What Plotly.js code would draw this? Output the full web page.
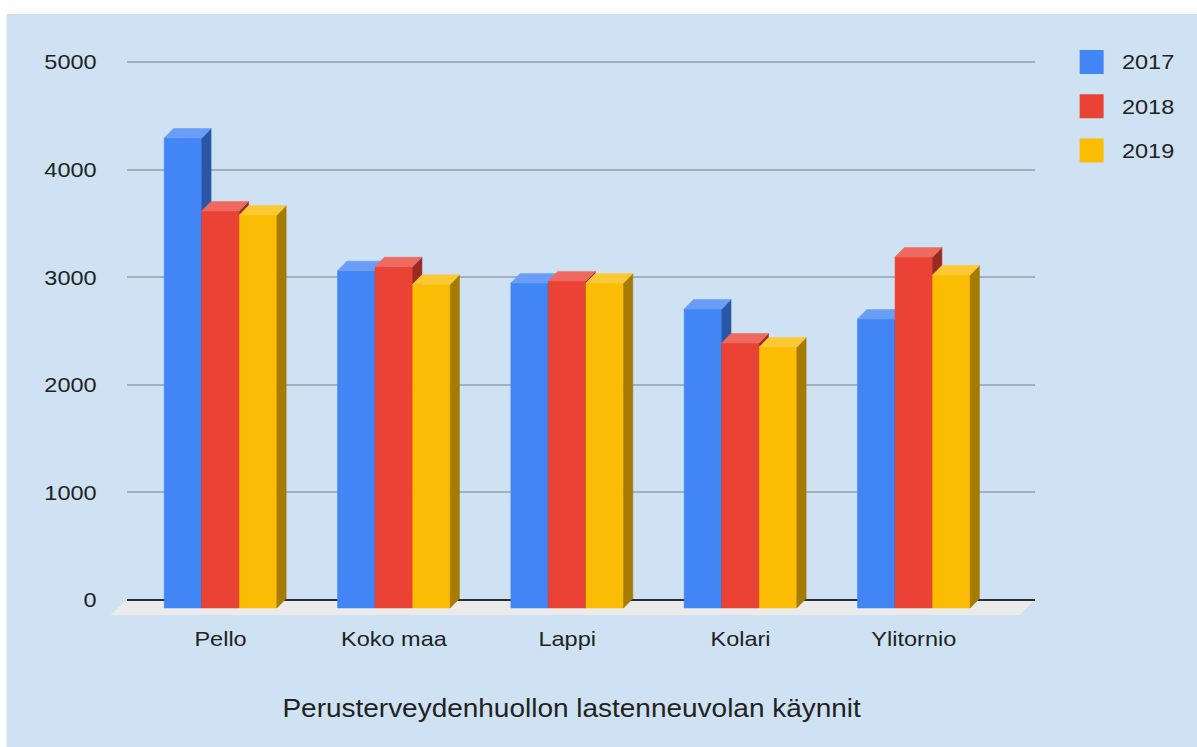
<!DOCTYPE html>
<html><head><meta charset="utf-8">
<script src="https://cdn.plot.ly/plotly-3.0.1.min.js"></script>
<style>
html,body{margin:0;padding:0;background:#ffffff;overflow:hidden}
#chart{width:1069px;height:747px;transform:scaleX(1.119738);transform-origin:0 0;}
</style>
</head><body><div id="chart"></div>
<script>
// ---- data ----
const categories = ["Pello", "Koko maa", "Lappi", "Kolari", "Ylitornio"];
const seriesNames = ["2017", "2018", "2019"];
const values2017 = [4368, 3135, 3020, 2779, 2686];
const values2018 = [3690, 3172, 3040, 2463, 3262];
const values2019 = [3652, 3008, 3020, 2426, 3095];
const yTickVals = [0, 1000, 2000, 3000, 4000, 5000];
const axisTitle = "Perusterveydenhuollon lastenneuvolan käynnit";

// ---- styling / geometry (screen px) ----
const S = 1197 / 1069;            // horizontal stretch of the reference
const PL = 127, PR = 1035, PT = 50, PB = 620;
const K = 538 / 5000;             // px per value unit
const BACK0 = 600, FRONT0 = 608;  // y pixel of zero on back wall / front plane
const C0 = 221, STEP = 173.3;     // first category centre, spacing (px)
const BARW = 37.55 / STEP;        // bar width in category units
const DX = 9.3 / STEP;            // depth, x (category units)
const DY = 9.5 / K;               // depth, y (value units)
const px = x => (x - PL) / (PR - PL);
const py = y => (PB - y) / (PB - PT);

const seriesValues = [values2017, values2018, values2019];
const faceColors = [
  {front: "#4285f4", top: "#6a9df6", side: "#2a56a6"},
  {front: "#ea4335", top: "#ee6a60", side: "#9a2b23"},
  {front: "#fbbc04", top: "#fcc934", side: "#a57b00"}
];

// empty trace so the back-wall value axis (gridlines, tick labels) is drawn
const traces = [{type: "scatter", mode: "lines", x: [null], y: [null],
  xaxis: "x", yaxis: "y", showlegend: false, hoverinfo: "skip"}];
seriesValues.forEach((vals, j) => {
  const fx = [], fy = [], tx = [], ty = [], sx = [], sy = [];
  vals.forEach((v, i) => {
    const xl = i + (j - 1.5) * BARW, xr = xl + BARW;
    fx.push(xl, xl, xr, xr, xl, null); fy.push(0, v, v, 0, 0, null);
    tx.push(xl, xl + DX, xr + DX, xr, xl, null); ty.push(v, v + DY, v + DY, v, v, null);
    sx.push(xr, xr, xr + DX, xr + DX, xr, null); sy.push(0, v, v + DY, DY, 0, null);
  });
  const c = faceColors[j];
  const mk = (x, y, col, name, hov) => ({
    type: "scatter", mode: "lines", x: x, y: y, xaxis: "x", yaxis: "y2",
    fill: "toself", fillcolor: col, line: {color: col, width: 0.5},
    name: name, showlegend: false, hoverinfo: hov ? "y+name" : "skip"
  });
  traces.push(mk(fx, fy, c.front, seriesNames[j], true));
  traces.push(mk(sx, sy, c.side, seriesNames[j], false));
  traces.push(mk(tx, ty, c.top, seriesNames[j], false));
});

const shapes = [
  {type: "rect", xref: "paper", yref: "paper", layer: "below",
   x0: px(7), x1: px(1210), y0: py(14), y1: py(760),
   fillcolor: "#cfe2f3", line: {width: 0}},
  {type: "path", xref: "paper", yref: "paper", layer: "below",
   path: `M ${px(127)} ${py(600)} L ${px(1035)} ${py(600)} L ${px(1020)} ${py(615)} L ${px(111)} ${py(615)} Z`,
   fillcolor: "#ebebeb", line: {width: 0}}
];
const annotations = [];
seriesNames.forEach((n, j) => {
  const yc = 62 + 44.25 * j;
  shapes.push({type: "rect", xref: "paper", yref: "paper", layer: "above",
    x0: px(1080), x1: px(1104), y0: py(yc + 12), y1: py(yc - 12),
    fillcolor: faceColors[j].front, line: {width: 0}});
  annotations.push({xref: "paper", yref: "paper", x: px(1120.5), y: py(yc),
    xanchor: "left", yanchor: "middle", showarrow: false, text: n,
    font: {family: "Liberation Sans, Arial, sans-serif", size: 21, color: "#222222"}});
});
annotations.push({xref: "paper", yref: "paper", x: px(572.5), y: py(707.8),
  xanchor: "center", yanchor: "middle", showarrow: false, text: axisTitle,
  font: {family: "Liberation Sans, Arial, sans-serif", size: 25, color: "#222222"}});

const layout = {
  width: 1069, height: 747,
  margin: {l: PL / S, r: (1197 - PR) / S, t: PT, b: 747 - PB, autoexpand: false},
  paper_bgcolor: "#ffffff", plot_bgcolor: "rgba(0,0,0,0)",
  showlegend: false,
  font: {family: "Liberation Sans, Arial, sans-serif", size: 21, color: "#222222"},
  xaxis: {range: [(PL - C0) / STEP, (PR - C0) / STEP], tickmode: "array",
    tickvals: categories.map((c, i) => i), ticktext: categories,
    showgrid: false, zeroline: false, showline: false, ticks: "",
    ticklabelstandoff: 4, fixedrange: true},
  yaxis: {range: [-(PB - BACK0) / K, (BACK0 - PT) / K], tickmode: "array",
    tickvals: yTickVals, ticktext: yTickVals.map(String),
    showgrid: true, gridcolor: "#a3b0bc", gridwidth: 2,
    zeroline: true, zerolinecolor: "#2b2f33", zerolinewidth: 2,
    showline: false, ticks: "outside", ticklen: 21.5, tickcolor: "rgba(0,0,0,0)",
    fixedrange: true},
  yaxis2: {overlaying: "y", range: [-(PB - FRONT0) / K, (FRONT0 - PT) / K],
    visible: false, fixedrange: true},
  shapes: shapes, annotations: annotations
};
Plotly.newPlot("chart", traces, layout, {displayModeBar: false, staticPlot: true});
</script>
</body></html>
